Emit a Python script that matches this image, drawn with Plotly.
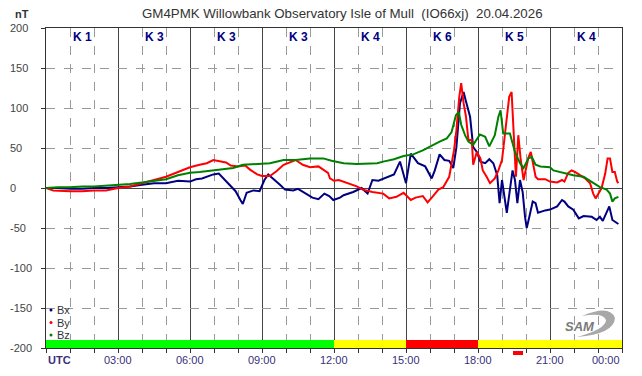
import plotly.graph_objects as go

# ---------------- DATA ----------------
title_text = "GM4PMK Willowbank Observatory Isle of Mull  (IO66xj)  20.04.2026"

bx_t = [0.0, 0.5, 1.0, 1.5, 2.0, 2.5, 3.0, 3.5, 4.0, 4.5, 5.0, 5.5, 6.0, 6.25, 6.5, 6.97, 7.2, 7.4, 7.67, 7.9,
        8.1, 8.2, 8.36, 8.64, 8.9, 9.1, 9.26, 9.54, 9.75, 9.96, 10.3, 10.5, 10.8, 11.1, 11.35, 11.6, 11.8, 11.97,
        12.25, 12.4, 12.8, 13.15, 13.4, 13.6, 13.85, 14.2, 14.5, 14.75, 15.0, 15.2, 15.5, 15.8, 16.07, 16.2, 16.4,
        16.6, 16.8, 16.97, 17.1, 17.25, 17.4, 17.5, 17.67, 17.8, 17.95, 18.1, 18.3, 18.47, 18.64, 18.8, 18.9, 19.0,
        19.1, 19.2, 19.33, 19.44, 19.54, 19.64, 19.75, 19.86, 19.96, 20.03, 20.14, 20.28, 20.4, 20.5, 20.8, 21.0,
        21.3, 21.5, 21.6, 21.76, 21.97, 22.2, 22.4, 22.74, 22.94, 23.08, 23.2, 23.4, 23.47, 23.6, 23.7, 23.85]
bx_v = [0, 0, -1, -1, 0, 0, 1, 2, 4, 6, 6, 9, 8, 11, 12, 17, 18, 12, 4, -4,
        -15, -20, -6, -3, -4, 10, 17, 10, 4, -2, -3, -1, -6, -12, -14, -7, -10, -15,
        -12, -9, -5, 0, -7, 10, 9, 13, 17, 33, 6, 43, 31, 27, 12, 22, 42,
        35, 34, 25, 51, 106, 120, 108, 89, 51, 45, 33, 31, 36, 31, 16, -19, 10,
        -13, -31, -2, 22, 10, -19, 10, -5, -36, -50, -36, -17, -19, -31, -28, -27,
        -23, -15, -17, -23, -27, -38, -35, -36, -40, -36, -41, -27, -23, -40, -42, -45]

by_t = [0.0, 0.3, 1.0, 1.5, 2.0, 2.5, 3.0, 3.5, 4.0, 4.5, 5.0, 5.5, 6.0, 6.4, 6.7, 6.97, 7.25, 7.5, 7.7, 8.0,
        8.3, 8.5, 8.8, 9.0, 9.33, 9.6, 9.9, 10.2, 10.4, 10.7, 11.0, 11.35, 11.55, 11.75, 11.83, 12.0, 12.2, 12.5,
        12.95, 13.2, 13.6, 14.05, 14.3, 14.6, 14.9, 15.2, 15.4, 15.7, 15.9, 16.1, 16.35, 16.55, 16.8, 17.0, 17.1,
        17.22, 17.3, 17.4, 17.5, 17.6, 17.74, 17.8, 17.95, 18.1, 18.2, 18.36, 18.5, 18.7, 18.85, 19.0, 19.17, 19.3,
        19.4, 19.5, 19.58, 19.68, 19.78, 19.9, 20.0, 20.1, 20.2, 20.3, 20.4, 20.5, 20.8, 21.0, 21.3, 21.5, 21.6,
        21.76, 21.9, 22.04, 22.25, 22.46, 22.67, 22.8, 22.9, 23.0, 23.15, 23.3, 23.4, 23.5, 23.6, 23.7, 23.8, 23.85]
by_v = [0, -3, -4, -4, -3, -3, 0, 2, 6, 10, 14, 20, 26, 29, 31, 35, 33, 32, 28, 27,
        28, 23, 17, 15, 15, 21, 29, 33, 35, 29, 26, 27, 23, 19, 12, 9, 10, 7,
        2, -2, -5, -7, -13, -11, -6, -15, -12, -10, -18, -11, -2, 1, 14, 47, 72,
        114, 131, 106, 89, 60, 60, 29, 45, 37, 22, 14, 6, 12, 22, 35, 81, 114,
        120, 64, 14, 66, 35, 10, 25, 38, 45, 30, 14, 11, 11, 8, 7, 10, 8,
        19, 22, 20, 16, 12, 6, -7, -13, -7, 0, 18, 37, 37, 20, 20, 8, 6]

bz_t = [0.0, 0.5, 1.0, 1.5, 2.0, 2.5, 3.0, 3.5, 4.0, 4.5, 5.0, 5.5, 6.0, 6.4, 6.97, 7.4, 7.8, 8.2, 8.8, 9.33,
        9.9, 10.4, 11.0, 11.55, 11.9, 12.4, 12.95, 13.8, 14.05, 14.5, 14.9, 15.3, 15.7, 16.0, 16.4, 16.7, 16.9,
        17.08, 17.2, 17.3, 17.46, 17.6, 17.8, 18.08, 18.3, 18.47, 18.7, 18.85, 18.94, 19.05, 19.33, 19.54, 19.75,
        19.9, 20.1, 20.24, 20.4, 20.6, 21.0, 21.14, 21.56, 21.97, 22.4, 22.74, 23.08, 23.36, 23.5, 23.6, 23.7, 23.85]
bz_v = [0, 1, 1, 2, 2, 3, 4, 5, 7, 9, 11, 16, 19, 20, 22, 23, 25, 29, 30, 31,
        35, 35, 37, 37, 34, 31, 30, 31, 33, 36, 40, 42, 47, 52, 58, 62, 70,
        91, 95, 79, 66, 58, 54, 67, 64, 52, 66, 89, 97, 68, 68, 45, 31,
        25, 37, 39, 29, 27, 26, 22, 19, 16, 14, 8, 1, -2, -7, -17, -13, -11]

k_values = [1, 3, 3, 3, 4, 6, 5, 4]
k_colors = ["#00ff00", "#00ff00", "#00ff00", "#00ff00", "#ffff00", "#ff0000", "#ffff00", "#ffff00"]
x_tick_vals = [0, 3, 6, 9, 12, 15, 18, 21, 24]
x_tick_text = ["UTC", "03:00", "06:00", "09:00", "12:00", "15:00", "18:00", "21:00", "00:00"]
y_tick_vals = [200, 150, 100, 50, 0, -50, -100, -150, -200]
series_names = ["Bx", "By", "Bz"]
series_colors = ["#000080", "#ff0000", "#008000"]

# ---------------- LAYOUT HELPERS ----------------
W, H = 642, 376
L, R, T, B = 46, 622, 28, 348
def px(x):
    return (x - L) / (R - L)
def py(y):
    return (B - y) / (B - T)

FONT = "Liberation Sans, Arial, sans-serif"

fig = go.Figure()
for t, v, n, c in zip([bx_t, by_t, bz_t], [bx_v, by_v, bz_v], series_names, series_colors):
    fig.add_trace(go.Scatter(x=t, y=v, mode="lines", name=n,
                             line=dict(color=c, width=2), showlegend=False, hoverinfo="skip"))

shapes = []
annotations = []

# K-index colour band at the bottom
for i, col in enumerate(k_colors):
    shapes.append(dict(type="rect", xref="x", yref="y", x0=i * 3, x1=i * 3 + 3, y0=-200, y1=-190,
                       fillcolor=col, line=dict(width=0), layer="between"))
# small red marker below axis
shapes.append(dict(type="rect", xref="paper", yref="paper", x0=px(513), x1=px(523), y0=py(351), y1=py(355),
                   fillcolor="#ff0000", line=dict(width=0), layer="above"))

# K labels
for i, k in enumerate(k_values):
    annotations.append(dict(x=i * 3 + 1.5, y=py(37), xref="x", yref="paper", text="<b>K %d</b>" % k,
                            showarrow=False, font=dict(family=FONT, size=12, color="#000080"),
                            xanchor="center", yanchor="middle"))

# x tick labels
for v, txt in zip(x_tick_vals, x_tick_text):
    anchor = "center"
    if v == 0:
        anchor = "left"
    elif v == 24:
        anchor = "right"
    label = "<b>%s</b>" % txt if txt == "UTC" else txt
    annotations.append(dict(x=v, y=py(360), xref="x", yref="paper", text=label, showarrow=False,
                            font=dict(family=FONT, size=11, color="#3a2f7a"),
                            xanchor=anchor, yanchor="middle"))

# y tick labels (left aligned)
for v in y_tick_vals:
    annotations.append(dict(x=px(8), y=v, xref="paper", yref="y", text=str(v), showarrow=False,
                            font=dict(family=FONT, size=11, color="#444444"),
                            xanchor="left", yanchor="middle"))

# unit + title
annotations.append(dict(x=px(13), y=py(14), xref="paper", yref="paper", text="<b>nT</b>", showarrow=False,
                        font=dict(family=FONT, size=11, color="#333333"), xanchor="left", yanchor="middle"))
annotations.append(dict(x=px(342), y=py(13), xref="paper", yref="paper", text=title_text, showarrow=False,
                        font=dict(family=FONT, size=13.3, color="#333333"), xanchor="center", yanchor="middle"))

# manual legend
for i, (n, c) in enumerate(zip(series_names, series_colors)):
    yy = 310 + i * 12.5
    shapes.append(dict(type="circle", xref="paper", yref="paper", x0=px(49.5), x1=px(52.5),
                       y0=py(yy + 1.5), y1=py(yy - 1.5), fillcolor=c, line=dict(width=0), layer="above"))
    annotations.append(dict(x=px(55), y=py(yy), xref="paper", yref="paper", text=n, showarrow=False,
                            font=dict(family=FONT, size=11, color="#333333"), xanchor="left", yanchor="middle"))

# SAM logo
swoosh = ("M {a},{b} Q {c},{d} {e},{f} Q {g},{h} {i},{j} Q {k},{l} {m},{n} Q {o},{p} {a},{b} Z").format(
    a=px(582), b=py(316), c=px(610), d=py(304), e=px(615), f=py(318),
    g=px(614), h=py(334), i=px(577), j=py(337), k=px(606), l=py(329), m=px(606), n=py(320),
    o=px(603), p=py(312))
shapes.append(dict(type="path", xref="paper", yref="paper", path=swoosh, fillcolor="#a8a8a8",
                   line=dict(width=0), layer="above"))
annotations.append(dict(x=px(580), y=py(326), xref="paper", yref="paper", text="<i><b>SAM</b></i>",
                        showarrow=False, font=dict(family=FONT, size=13, color="#7a7a7a"),
                        xanchor="center", yanchor="middle"))

fig.update_layout(
    width=W, height=H,
    margin=dict(l=L, r=W - R, t=T, b=H - B, pad=0),
    paper_bgcolor="white", plot_bgcolor="white",
    shapes=shapes, annotations=annotations,
    showlegend=False,
)
fig.update_xaxes(range=[0, 24], dtick=3, tick0=0, showticklabels=False,
                 showgrid=True, gridcolor="#444444", gridwidth=1,
                 minor=dict(dtick=1, showgrid=True, gridcolor="#999999", griddash="dash", gridwidth=1,
                            ticks="outside", ticklen=4, tickcolor="#333333"),
                 ticks="outside", ticklen=4, tickcolor="#333333",
                 showline=True, linecolor="#333333", linewidth=1, mirror=True, zeroline=False, fixedrange=True)
fig.update_yaxes(range=[-200, 200], dtick=50, tick0=0, showticklabels=False,
                 showgrid=True, gridcolor="#999999", griddash="dash", gridwidth=1,
                 ticks="outside", ticklen=4, tickcolor="#333333",
                 zeroline=True, zerolinecolor="#444444", zerolinewidth=1,
                 showline=True, linecolor="#333333", linewidth=1, mirror=True, fixedrange=True)

fig.write_html("out.html", config={"displayModeBar": False},
               post_script="document.body.style.margin='0';document.body.style.padding='0';")
